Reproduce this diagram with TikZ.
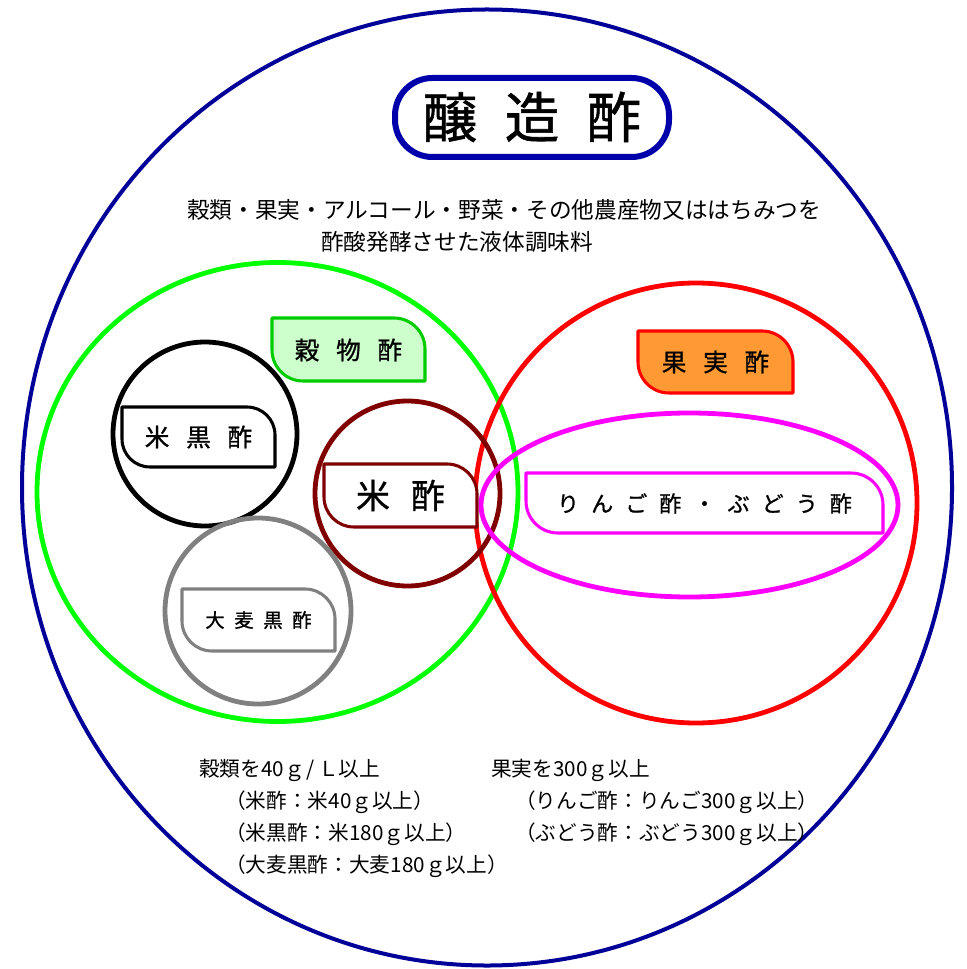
\documentclass[tikz,border=0pt]{standalone}
\usepackage{fontspec}
\newfontfamily\jp{Noto Sans CJK JP}
\newfontfamily\jpm{Noto Sans CJK JP}[FakeBold=1]
\definecolor{navyc}{RGB}{0,0,153}
\definecolor{titlec}{RGB}{0,0,170}
\definecolor{grainc}{RGB}{0,255,0}
\definecolor{grainbd}{RGB}{0,204,0}
\definecolor{grainfill}{RGB}{204,255,204}
\definecolor{fruitc}{RGB}{255,0,0}
\definecolor{fruitfill}{RGB}{255,153,51}
\definecolor{ricec}{RGB}{128,0,0}
\definecolor{barleyc}{RGB}{128,128,128}
\definecolor{applec}{RGB}{255,0,255}
\newcommand\lsp[1]{\hspace{#1em}}
\newcommand\labelbox[6]{%
  \draw[#1] (#2,#3) -- ({#4-#6},#3) arc[start angle=90,end angle=0,radius=#6*0.75pt]
    -- (#4,#5) -- ({#2+#6},#5) arc[start angle=270,end angle=180,radius=#6*0.75pt] -- cycle;}
\tikzset{
  ring/.style={line width=3.6pt},
  tagline/.style={line width=2.3pt, line join=round},
  txt/.style={font=\jp, inner sep=0pt},
  desc/.style={txt, font=\jp\fontsize{17pt}{20pt}\selectfont, anchor=west},
  note/.style={txt, font=\jp\fontsize{15.5pt}{18pt}\selectfont, anchor=west},
  tagtxt/.style={txt, font=\jpm\fontsize{18.5pt}{20pt}\selectfont},
}
\begin{document}
\begin{tikzpicture}[x=0.75pt,y=-0.75pt]
\useasboundingbox (0,0) rectangle (966,969);
% outer
\draw[navyc, line width=3pt] (487,487.5) ellipse [x radius=465, y radius=478];
% title
\draw[titlec, line width=4.5pt, rounded corners=28pt] (395,78) rectangle (669,157);
\node[txt, font=\jpm\fontsize{41pt}{44pt}\selectfont] (title) at (532,117) {醸\lsp{0.5}造\lsp{0.5}酢};
% description
\node[desc] (d1) at (187,210) {穀類・果実・アルコール・野菜・その他農産物又ははちみつを};
\node[desc] (d2) at (321,242) {酢酸発酵させた液体調味料};
% big groups
\draw[grainc, ring] (277.5,492) ellipse [x radius=240.5, y radius=229.5];
\draw[fruitc, ring] (696,503) ellipse [x radius=221, y radius=220];
% small circles
\draw[black, ring] (205,434) circle [radius=92];
\draw[ricec, ring] (407.5,493.5) circle [radius=92.5];
\draw[barleyc, ring] (258,611) circle [radius=93];
\draw[applec, ring] (689.5,505) ellipse [x radius=208.5, y radius=92];
% label boxes
\labelbox{grainbd, fill=grainfill, tagline}{272}{318}{425}{381}{31}
\node[tagtxt] (grain) at (348.5,350) {穀\lsp{0.68}物\lsp{0.68}酢};
\labelbox{fruitc, fill=fruitfill, tagline}{638}{331}{793}{393}{31}
\node[tagtxt] (fruit) at (715.5,362) {果\lsp{0.68}実\lsp{0.68}酢};
\labelbox{black, fill=white, tagline}{122}{407}{275}{467}{28}
\node[tagtxt] (kurozu) at (198.5,437) {米\lsp{0.68}黒\lsp{0.68}酢};
\labelbox{ricec, fill=white, tagline}{324}{464}{477}{527}{30}
\node[txt, font=\jpm\fontsize{25.5pt}{28pt}\selectfont] (komezu) at (400.5,495.5) {米\lsp{0.62}酢};
\labelbox{barleyc, fill=white, tagline}{182}{589}{335}{651}{30}
\node[txt, font=\jpm\fontsize{14.5pt}{16pt}\selectfont] (barley) at (258.5,620) {大\lsp{0.5}麦\lsp{0.5}黒\lsp{0.5}酢};
\labelbox{applec, fill=white, tagline}{526}{473}{883}{533}{32}
\node[txt, font=\jpm\fontsize{16.5pt}{18pt}\selectfont] (apple) at (704.5,503.5) {り\lsp{0.55}ん\lsp{0.55}ご\lsp{0.55}酢\lsp{0.55}・\lsp{0.55}ぶ\lsp{0.55}ど\lsp{0.55}う\lsp{0.55}酢};
% notes
\node[note] (n1) at (199,770) {穀類を40ｇ\hspace{0.1em}/\hspace{0.15em}Ｌ以上};
\node[note] (n2) at (225,802) {（米酢：米40ｇ以上）};
\node[note] (n3) at (225,834) {（米黒酢：米180ｇ以上）};
\node[note] (n4) at (225,866) {（大麦黒酢：大麦180ｇ以上）};
\node[note] (n5) at (491,770) {果実を300ｇ以上};
\node[note] (n6) at (515,802) {（りんご酢：りんご300ｇ以上）};
\node[note] (n7) at (515,834) {（ぶどう酢：ぶどう300ｇ以上）};
\end{tikzpicture}
\end{document}
